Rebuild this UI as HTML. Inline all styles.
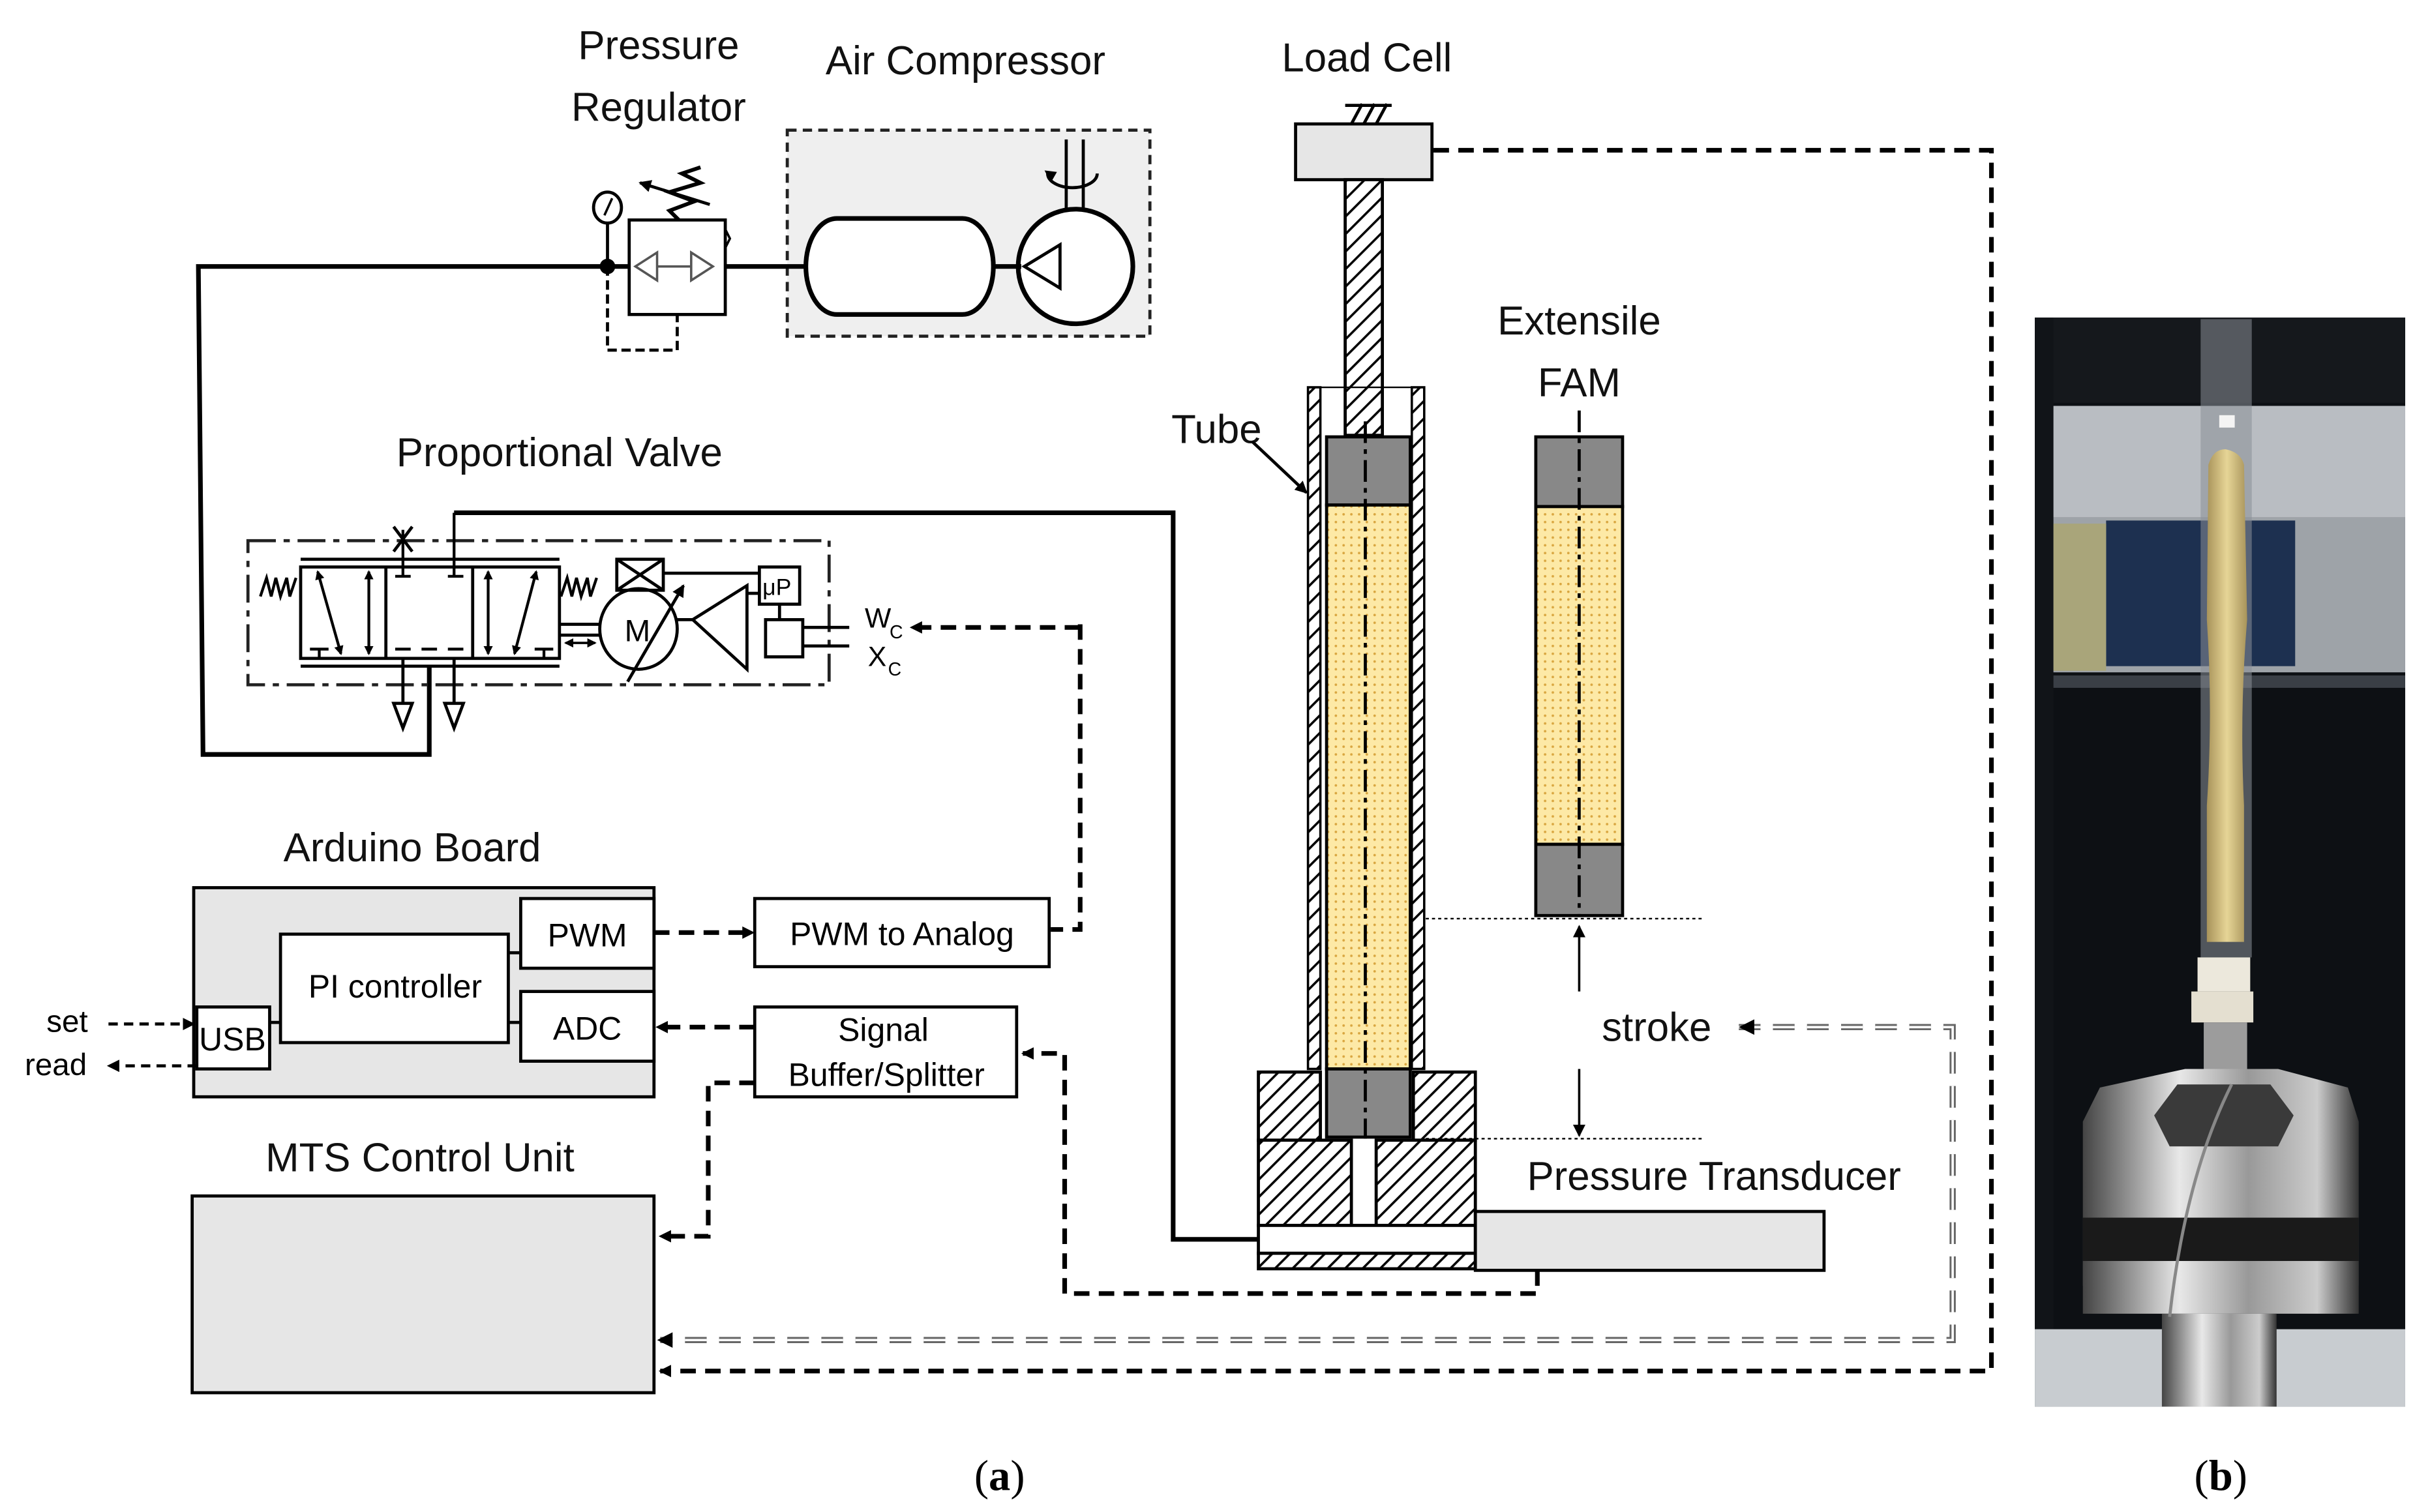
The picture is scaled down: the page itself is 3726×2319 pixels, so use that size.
<!DOCTYPE html>
<html><head><style>html,body{margin:0;padding:0;background:#fff}svg{display:block}</style></head><body>
<svg width="3726" height="2319" viewBox="0 0 1568 976" preserveAspectRatio="none" xmlns="http://www.w3.org/2000/svg" font-family="'Liberation Sans', 'DejaVu Sans', sans-serif">
<defs>
<pattern id="hatch" width="8" height="8" patternUnits="userSpaceOnUse" patternTransform="rotate(45)"><rect width="8" height="8" fill="#fff"/><line x1="0" y1="0" x2="0" y2="8" stroke="#000" stroke-width="3"/></pattern>
<pattern id="dots" width="5" height="5" patternUnits="userSpaceOnUse"><rect width="5" height="5" fill="#fde9a6"/><circle cx="2" cy="2" r="0.8" fill="#d9a640"/></pattern>
<marker id="ar" markerWidth="8" markerHeight="8" refX="7" refY="4" orient="auto" markerUnits="userSpaceOnUse"><path d="M0,0 L8,4 L0,8 z" fill="#000"/></marker>
<marker id="sa" markerWidth="6" markerHeight="6" refX="5" refY="3" orient="auto-start-reverse" markerUnits="userSpaceOnUse"><path d="M0,0 L6,3 L0,6 z" fill="#000"/></marker>
<linearGradient id="met" x1="0" y1="0" x2="1" y2="0"><stop offset="0" stop-color="#444"/><stop offset="0.35" stop-color="#e8e8e8"/><stop offset="0.6" stop-color="#999"/><stop offset="0.85" stop-color="#ccc"/><stop offset="1" stop-color="#333"/></linearGradient>
<linearGradient id="fam" x1="0" y1="0" x2="1" y2="0"><stop offset="0" stop-color="#a8935a"/><stop offset="0.5" stop-color="#e6d596"/><stop offset="1" stop-color="#a8935a"/></linearGradient>
</defs>
<g font-size="26" fill="#111">
<text x="425" y="38" text-anchor="middle">Pressure</text>
<text x="425" y="78" text-anchor="middle">Regulator</text>
<text x="623" y="48" text-anchor="middle">Air Compressor</text>
<text x="882" y="46" text-anchor="middle">Load Cell</text>
<text x="1019" y="216" text-anchor="middle">Extensile</text>
<text x="1019" y="256" text-anchor="middle">FAM</text>
<text x="785" y="286" text-anchor="middle">Tube</text>
<text x="361" y="301" text-anchor="middle">Proportional Valve</text>
<text x="266" y="556" text-anchor="middle">Arduino Board</text>
<text x="271" y="756" text-anchor="middle">MTS Control Unit</text>
<text x="1106" y="768" text-anchor="middle">Pressure Transducer</text>
<text x="1069" y="672" text-anchor="middle">stroke</text>
</g>
<!-- compressor -->
<rect x="508" y="84" width="234" height="133" fill="#efefef" stroke="#222" stroke-width="2" stroke-dasharray="6,4"/>
<path d="M540,141 H621 A20,31 0 0 1 621,203 H540 A20,31 0 0 1 540,141 Z" fill="#fff" stroke="#000" stroke-width="3"/>
<ellipse cx="694" cy="172" rx="37" ry="37" fill="#fff" stroke="#000" stroke-width="3"/>
<path d="M684,158 L684,186 L661,172 z" fill="none" stroke="#000" stroke-width="2"/>
<path d="M688,90 V135 M699,90 V135 M676,112 A14,8 0 0 0 708,112" fill="none" stroke="#000" stroke-width="2"/>
<path d="M674,110 l4,8 l4,-7z" fill="#000"/>
<line x1="468" y1="172" x2="520" y2="172" stroke="#000" stroke-width="3"/>
<line x1="641" y1="172" x2="659" y2="172" stroke="#000" stroke-width="3"/>
<!-- regulator -->
<rect x="406" y="142" width="62" height="61" fill="#fff" stroke="#000" stroke-width="2"/>
<path d="M424,163 L410,172 L424,181 Z M446,163 L460,172 L446,181 Z M424,172 h22" fill="none" stroke="#555" stroke-width="1.5"/>
<path d="M438,142 L432,136 L448,130 L432,124 L452,118 L440,112 L452,108" fill="none" stroke="#000" stroke-width="2.5"/>
<path d="M458,132 L413,118" stroke="#000" stroke-width="2" marker-end="url(#ar)"/>
<path d="M468,148 l3,6 l-3,6" fill="none" stroke="#000" stroke-width="1.5"/>
<ellipse cx="392" cy="134" rx="9" ry="10" fill="#fff" stroke="#000" stroke-width="2"/>
<line x1="390" y1="139" x2="395" y2="128" stroke="#000" stroke-width="1.5"/>
<line x1="392" y1="144" x2="392" y2="172" stroke="#000" stroke-width="2"/>
<path d="M392,172 v54 h45 v-23" fill="none" stroke="#000" stroke-width="2" stroke-dasharray="6,3"/>
<circle cx="392" cy="172" r="5" fill="#000"/>
<polyline points="406,172 128,172 131,487 277,487 277,430" fill="none" stroke="#000" stroke-width="3"/>
<!-- valve -->
<rect x="160" y="349" width="375" height="93" fill="none" stroke="#222" stroke-width="2" stroke-dasharray="18,5,4,5"/>
<path d="M194,361 H361 M194,430 H361" stroke="#000" stroke-width="2"/>
<rect x="194" y="366" width="167" height="59" fill="none" stroke="#000" stroke-width="2"/>
<line x1="249" y1="366" x2="249" y2="425" stroke="#000" stroke-width="2"/><line x1="305" y1="366" x2="305" y2="425" stroke="#000" stroke-width="2"/>
<g stroke="#000" stroke-width="1.8">
<line x1="205" y1="369" x2="220" y2="422" marker-start="url(#sa)" marker-end="url(#sa)"/>
<line x1="238" y1="369" x2="238" y2="422" marker-start="url(#sa)" marker-end="url(#sa)"/>
<line x1="315" y1="369" x2="315" y2="422" marker-start="url(#sa)" marker-end="url(#sa)"/>
<line x1="346" y1="369" x2="332" y2="422" marker-start="url(#sa)" marker-end="url(#sa)"/>
<path d="M255,372 h10 M260,372 V342 M289,372 h10 M293,372 V331 M200,419 h12 M206,419 v6 M345,419 h12 M351,419 v6 M255,419 h10 M272,419 h10 M289,419 h10"/>
</g>
<path d="M254,340 L266,356 M266,340 L254,356" stroke="#000" stroke-width="2"/>
<path d="M168,385 l4,-12 l3,12 l3,-12 l3,12 l4,-12 l2,12 l4,-12 M362,385 l4,-12 l3,12 l3,-12 l3,12 l4,-12 l2,12 l4,-12" fill="none" stroke="#000" stroke-width="1.8"/>
<path d="M260,425 v28 M293,425 v28 M254,454 l6,16 l6,-16z M287,454 l6,16 l6,-16z" fill="none" stroke="#000" stroke-width="2"/>
<ellipse cx="412" cy="406" rx="25" ry="26" fill="none" stroke="#000" stroke-width="2"/>
<text x="403" y="414" font-size="20">M</text>
<line x1="405" y1="440" x2="441" y2="378" stroke="#000" stroke-width="2" marker-end="url(#ar)"/>
<path d="M361,403 h26 M361,410 h26" stroke="#000" stroke-width="2"/>
<line x1="365" y1="415" x2="384" y2="415" stroke="#000" stroke-width="1.5" marker-start="url(#sa)" marker-end="url(#sa)"/>
<rect x="398" y="361" width="30" height="20" fill="none" stroke="#000" stroke-width="2"/>
<path d="M398,361 L428,381 M428,361 L398,381 M428,370 h62 M437,400 h10" stroke="#000" stroke-width="2"/>
<path d="M482,378 L482,432 L447,400 z" fill="none" stroke="#000" stroke-width="2"/>
<rect x="490" y="366" width="26" height="24" fill="none" stroke="#000" stroke-width="2"/><text x="492" y="384" font-size="15">μP</text>
<line x1="482" y1="383" x2="490" y2="383" stroke="#000" stroke-width="2"/>
<line x1="503" y1="390" x2="503" y2="400" stroke="#000" stroke-width="2"/>
<rect x="494" y="400" width="24" height="24" fill="none" stroke="#000" stroke-width="2"/>
<path d="M518,405 h30 M518,417 h30" stroke="#000" stroke-width="2"/>
<text x="558" y="405" font-size="18">W</text><text x="574" y="412" font-size="12">C</text>
<text x="560" y="430" font-size="18">X</text><text x="573" y="436" font-size="12">C</text>
<polyline points="293,331 757,331 757,800 812,800" fill="none" stroke="#000" stroke-width="3"/>
<polyline points="697,403 697,600 678,600" fill="none" stroke="#000" stroke-width="3" stroke-dasharray="10,6"/>
<line x1="697" y1="405" x2="588" y2="405" stroke="#000" stroke-width="3" stroke-dasharray="10,6" marker-end="url(#ar)"/>
<!-- arduino -->
<rect x="125" y="573" width="297" height="135" fill="#e6e6e6" stroke="#000" stroke-width="2"/>
<rect x="181" y="603" width="147" height="70" fill="#fff" stroke="#000" stroke-width="2"/><text x="255" y="644" font-size="21" text-anchor="middle">PI controller</text>
<rect x="336" y="580" width="86" height="45" fill="#fff" stroke="#000" stroke-width="2"/><text x="379" y="611" font-size="21" text-anchor="middle">PWM</text>
<rect x="336" y="640" width="86" height="45" fill="#fff" stroke="#000" stroke-width="2"/><text x="379" y="671" font-size="21" text-anchor="middle">ADC</text>
<rect x="127" y="650" width="47" height="40" fill="#fff" stroke="#000" stroke-width="2"/><text x="150" y="678" font-size="21" text-anchor="middle">USB</text>
<path d="M174,660 h7 M328,615 h8 M328,660 h8" stroke="#000" stroke-width="2"/>
<text x="30" y="666" font-size="20">set</text><text x="16" y="694" font-size="20">read</text>
<line x1="70" y1="661" x2="125" y2="661" stroke="#000" stroke-width="2" stroke-dasharray="6,4" marker-end="url(#ar)"/>
<line x1="127" y1="688" x2="70" y2="688" stroke="#000" stroke-width="2" stroke-dasharray="6,4" marker-end="url(#ar)"/>
<rect x="487" y="580" width="190" height="44" fill="#fff" stroke="#000" stroke-width="2"/><text x="582" y="610" font-size="21" text-anchor="middle">PWM to Analog</text>
<line x1="422" y1="602" x2="486" y2="602" stroke="#000" stroke-width="3" stroke-dasharray="10,6" marker-end="url(#ar)"/>
<rect x="487" y="650" width="169" height="58" fill="#fff" stroke="#000" stroke-width="2"/>
<text x="570" y="672" font-size="21" text-anchor="middle">Signal</text><text x="572" y="701" font-size="21" text-anchor="middle">Buffer/Splitter</text>
<line x1="487" y1="663" x2="424" y2="663" stroke="#000" stroke-width="3" stroke-dasharray="10,6" marker-end="url(#ar)"/>
<polyline points="487,699 457,699 457,798 426,798" fill="none" stroke="#000" stroke-width="3" stroke-dasharray="10,6" marker-end="url(#ar)"/>
<polyline points="992,820 992,835 687,835 687,680 660,680" fill="none" stroke="#000" stroke-width="3" stroke-dasharray="10,6" marker-end="url(#ar)"/>
<!-- MTS -->
<rect x="124" y="772" width="298" height="127" fill="#e6e6e6" stroke="#000" stroke-width="2"/>
<polyline points="925,97 1285,97 1285,885 426,885" fill="none" stroke="#000" stroke-width="3" stroke-dasharray="10,6" marker-end="url(#ar)"/>
<polyline points="1122,663 1260,663 1260,865 426,865" fill="none" stroke="#666" stroke-width="4" stroke-dasharray="14,8"/>
<polyline points="1122,663 1260,663 1260,865 430,865" fill="none" stroke="#fff" stroke-width="1.5" stroke-dasharray="14,8"/>
<path d="M1122,663 l10,-5 v10z M424,865 l10,-5 v10z" fill="#000"/>
<!-- load cell / rod -->
<rect x="836" y="80" width="88" height="36" fill="#e6e6e6" stroke="#000" stroke-width="2"/>
<path d="M872,80 l7,-13 M880,80 l7,-13 M888,80 l7,-13 M868,68 h30" stroke="#000" stroke-width="2"/>
<rect x="868" y="116" width="24" height="165" fill="url(#hatch)" stroke="#000" stroke-width="2"/>
<!-- tube -->
<rect x="844" y="250" width="8" height="440" fill="url(#hatch)" stroke="#000" stroke-width="1.5"/>
<rect x="911" y="250" width="8" height="440" fill="url(#hatch)" stroke="#000" stroke-width="1.5"/>
<line x1="852" y1="250" x2="911" y2="250" stroke="#000" stroke-width="1"/>
<line x1="808" y1="285" x2="843" y2="318" stroke="#000" stroke-width="2" marker-end="url(#ar)"/>
<rect x="856" y="282" width="54" height="44" fill="#888" stroke="#000" stroke-width="2"/>
<rect x="856" y="326" width="54" height="364" fill="url(#dots)" stroke="#000" stroke-width="2"/>
<rect x="856" y="690" width="54" height="44" fill="#888" stroke="#000" stroke-width="2"/>
<line x1="881" y1="272" x2="881" y2="735" stroke="#000" stroke-width="2" stroke-dasharray="14,4,3,4"/>
<rect x="812" y="692" width="40" height="44" fill="url(#hatch)" stroke="#000" stroke-width="2"/>
<rect x="912" y="692" width="40" height="44" fill="url(#hatch)" stroke="#000" stroke-width="2"/>
<rect x="812" y="736" width="60" height="55" fill="url(#hatch)" stroke="#000" stroke-width="2"/>
<rect x="888" y="736" width="64" height="55" fill="url(#hatch)" stroke="#000" stroke-width="2"/>
<rect x="812" y="791" width="140" height="18" fill="#fff" stroke="#000" stroke-width="2"/>
<rect x="812" y="809" width="140" height="10" fill="url(#hatch)" stroke="#000" stroke-width="2"/>
<rect x="952" y="782" width="225" height="38" fill="#e6e6e6" stroke="#000" stroke-width="2"/>
<!-- FAM -->
<rect x="991" y="282" width="56" height="45" fill="#888" stroke="#000" stroke-width="2"/>
<rect x="991" y="327" width="56" height="218" fill="url(#dots)" stroke="#000" stroke-width="2"/>
<rect x="991" y="545" width="56" height="46" fill="#888" stroke="#000" stroke-width="2"/>
<line x1="1019" y1="265" x2="1019" y2="592" stroke="#000" stroke-width="2" stroke-dasharray="14,4,3,4"/>
<line x1="920" y1="593" x2="1098" y2="593" stroke="#000" stroke-width="1" stroke-dasharray="2,2"/>
<line x1="920" y1="735" x2="1098" y2="735" stroke="#000" stroke-width="1" stroke-dasharray="2,2"/>
<line x1="1019" y1="640" x2="1019" y2="598" stroke="#000" stroke-width="1.5" marker-end="url(#ar)"/>
<line x1="1019" y1="690" x2="1019" y2="733" stroke="#000" stroke-width="1.5" marker-end="url(#ar)"/>
<!-- photo -->
<rect x="1313" y="205" width="239" height="703" fill="#0d1014"/>
<rect x="1313" y="205" width="239" height="55" fill="#15181c"/>
<rect x="1325" y="262" width="227" height="72" fill="#b9bdc2"/>
<rect x="1325" y="334" width="227" height="100" fill="#9ea3a8"/>
<rect x="1359" y="336" width="122" height="94" fill="#1d3050"/>
<rect x="1325" y="338" width="34" height="95" fill="#a9a57a"/>
<rect x="1325" y="436" width="227" height="8" fill="#3a3f46"/>
<rect x="1313" y="205" width="12" height="703" fill="#111418"/>
<rect x="1420" y="206" width="33" height="412" fill="#8a9098" opacity="0.55"/>
<path d="M1425,300 Q1428,290 1436,290 Q1446,292 1448,300 L1450,400 Q1445,460 1448,520 L1448,608 L1424,608 L1424,520 Q1428,460 1424,400 Z" fill="url(#fam)"/>
<rect x="1432" y="268" width="10" height="8" fill="#f4f4f4"/>
<rect x="1418" y="618" width="34" height="22" fill="#ece8dc"/>
<rect x="1414" y="640" width="40" height="20" fill="#e4dfd0"/>
<rect x="1422" y="660" width="28" height="32" fill="#9c9c9c"/>
<path d="M1344,724 L1355,702 L1410,690 L1470,690 L1515,702 L1522,724 L1522,830 L1344,830 Z" fill="url(#met)"/>
<path d="M1390,720 L1405,700 L1465,700 L1480,720 L1470,740 L1400,740 Z" fill="#3a3a3a"/>
<rect x="1344" y="786" width="178" height="28" fill="#1a1a1a"/>
<rect x="1344" y="814" width="178" height="34" fill="url(#met)"/>
<rect x="1313" y="858" width="239" height="50" fill="#c8ccd0"/>
<rect x="1395" y="848" width="74" height="60" fill="url(#met)"/>
<path d="M1440,700 Q1410,760 1400,850" fill="none" stroke="#888" stroke-width="2"/>
<text x="645" y="962" font-size="28" font-family="'Liberation Serif', serif" text-anchor="middle">(<tspan font-weight="bold">a</tspan>)</text>
<text x="1433" y="962" font-size="28" font-family="'Liberation Serif', serif" text-anchor="middle">(<tspan font-weight="bold">b</tspan>)</text>
</svg>
</body></html>
